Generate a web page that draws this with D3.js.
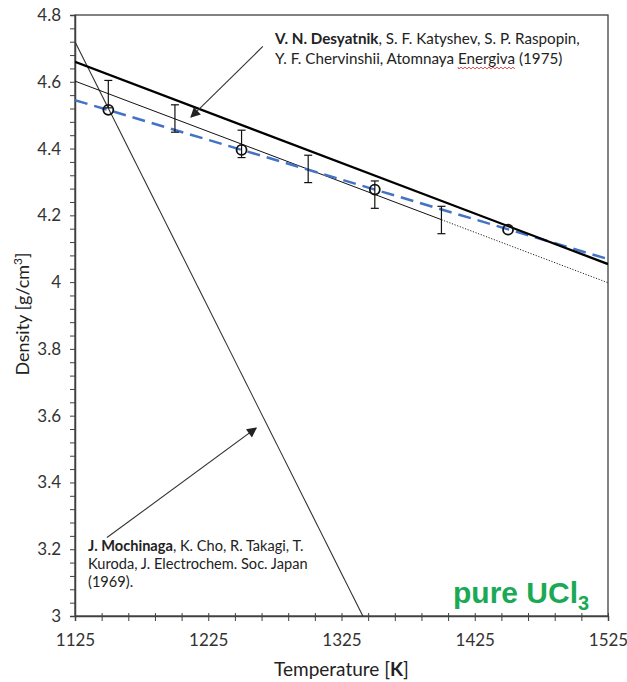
<!DOCTYPE html>
<html>
<head>
<meta charset="utf-8">
<script src="https://cdn.jsdelivr.net/npm/d3@7"></script>
<style>
  body { margin: 0; background: #fff; }
  svg { display: block; }
  text { font-family: Lato, "Open Sans", sans-serif; }
</style>
</head>
<body>
<svg id="chart" width="627" height="682"></svg>
<script>
// --- data ---
const xTicks = [1125, 1225, 1325, 1425, 1525];
const yTicks = [3, 3.2, 3.4, 3.6, 3.8, 4, 4.2, 4.4, 4.6, 4.8];

// Desyatnik et al. fit (thick)
const desyatnikFit = [[1125, 4.66], [1525, 4.054]];
// thin reference line, solid over the measured range then dotted
const thinSolid = [[1125, 4.602], [1400, 4.187]];
const thinDotted = [[1400, 4.187], [1525, 3.998]];
// blue dashed fit
const blueFit = [[1125, 4.545], [1525, 4.069]];
// Mochinaga et al. (steep)
const mochinagaFit = [[1125, 4.72], [1341, 3.0]];

// open circles
const circleT = [1150, 1250, 1350, 1450];
const circleD = [4.516, 4.396, 4.277, 4.157];

// error bars
const errT = [1150, 1200, 1250, 1300, 1350, 1400];
const errD = [4.563, 4.49, 4.414, 4.339, 4.262, 4.186];
const errHalf = 0.041;

const margin = { left: 75, right: 19, top: 15, bottom: 66 };
const width = 627, height = 682;

const svg = d3.select('#chart');
const x = d3.scaleLinear().domain([1125, 1525]).range([margin.left, width - margin.right]);
const y = d3.scaleLinear().domain([3, 4.8]).range([height - margin.bottom, margin.top]);

const axisColor = '#404040';

svg.append('defs').append('clipPath').attr('id', 'plotClip')
  .append('rect')
  .attr('x', x(1125)).attr('y', y(4.8))
  .attr('width', x(1525) - x(1125)).attr('height', y(3) - y(4.8));

// frame
svg.append('rect')
  .attr('x', x(1125)).attr('y', y(4.8))
  .attr('width', x(1525) - x(1125)).attr('height', y(3) - y(4.8))
  .attr('fill', 'none').attr('stroke', axisColor).attr('stroke-width', 1.3);

// x axis
const xAxis = svg.append('g').attr('transform', `translate(0,${y(3)})`)
  .call(d3.axisBottom(x).tickValues(d3.range(1125, 1526, 20)).tickSize(5)
    .tickFormat(d => xTicks.includes(d) ? d : ''));
xAxis.select('.domain').attr('stroke', axisColor).attr('stroke-width', 1.5);
xAxis.selectAll('.tick line').attr('stroke', axisColor).attr('y1', -3);
xAxis.selectAll('.tick text').attr('font-size', 17).attr('fill', '#333').attr('y', 30).attr('dy', 0)
  .style('font-family', 'Lato, sans-serif');

// y axis
const yAxis = svg.append('g').attr('transform', `translate(${x(1125)},0)`)
  .call(d3.axisLeft(y).tickValues(d3.range(0, 46).map(i => +(3 + i * 0.04).toFixed(2))).tickSize(5)
    .tickFormat(d => yTicks.includes(d) ? d : ''));
yAxis.select('.domain').attr('stroke', axisColor).attr('stroke-width', 1.5);
yAxis.selectAll('.tick line').attr('stroke', axisColor);
yAxis.selectAll('.tick text').attr('font-size', 17).attr('fill', '#333').attr('x', -14)
  .style('font-family', 'Lato, sans-serif');

const line = d3.line().x(d => x(d[0])).y(d => y(d[1]));
const plot = svg.append('g').attr('clip-path', 'url(#plotClip)');

plot.append('path').datum(mochinagaFit).attr('d', line)
  .attr('fill', 'none').attr('stroke', '#333').attr('stroke-width', 1.1);
plot.append('path').datum(thinSolid).attr('d', line)
  .attr('fill', 'none').attr('stroke', '#111').attr('stroke-width', 1);
plot.append('path').datum(thinDotted).attr('d', line)
  .attr('fill', 'none').attr('stroke', '#222').attr('stroke-width', 1).attr('stroke-dasharray', '1.2,1.6');
plot.append('path').datum(blueFit).attr('d', line)
  .attr('fill', 'none').attr('stroke', '#4472C4').attr('stroke-width', 2.5).attr('stroke-dasharray', '13,7');
plot.append('path').datum(desyatnikFit).attr('d', line)
  .attr('fill', 'none').attr('stroke', '#000').attr('stroke-width', 2.3);

// error bars
const eb = plot.selectAll('.eb').data(errT.map((t, i) => [t, errD[i]])).join('g').attr('class', 'eb');
eb.append('line')
  .attr('x1', d => x(d[0])).attr('x2', d => x(d[0]))
  .attr('y1', d => y(d[1] + errHalf)).attr('y2', d => y(d[1] - errHalf))
  .attr('stroke', '#111').attr('stroke-width', 1.2);
[1, -1].forEach(s => {
  eb.append('line')
    .attr('x1', d => x(d[0]) - 4).attr('x2', d => x(d[0]) + 4)
    .attr('y1', d => y(d[1] + s * errHalf)).attr('y2', d => y(d[1] + s * errHalf))
    .attr('stroke', '#111').attr('stroke-width', 1.2);
});

// open circles
plot.selectAll('.pt').data(circleT.map((t, i) => [t, circleD[i]])).join('circle')
  .attr('cx', d => x(d[0])).attr('cy', d => y(d[1])).attr('r', 5)
  .attr('fill', 'none').attr('stroke', '#111').attr('stroke-width', 1.8);

// arrows
const defs = svg.select('defs');
defs.append('marker').attr('id', 'arrow')
  .attr('viewBox', '0 0 10 10').attr('refX', 9).attr('refY', 5)
  .attr('markerWidth', 14).attr('markerHeight', 10).attr('markerUnits', 'userSpaceOnUse')
  .attr('orient', 'auto')
  .append('path').attr('d', 'M0,0 L10,5 L0,10 Z').attr('fill', '#222');

const arrowTop = [[1266, 4.706], [1212, 4.494]];
const arrowBottom = [[1149, 3.235], [1261, 3.563]];
[arrowTop, arrowBottom].forEach(a => {
  svg.append('line')
    .attr('x1', x(a[0][0])).attr('y1', y(a[0][1]))
    .attr('x2', x(a[1][0])).attr('y2', y(a[1][1]))
    .attr('stroke', '#333').attr('stroke-width', 1.1)
    .attr('marker-end', 'url(#arrow)');
});

// annotations
const ann1 = svg.append('text').attr('x', 275).attr('y', 44).attr('font-size', 15.2).attr('fill', '#222');
ann1.append('tspan').attr('font-weight', 'bold').text('V. N. Desyatnik');
ann1.append('tspan').text(', S. F. Katyshev, S. P. Raspopin,');
const ann2 = svg.append('text').attr('x', 275).attr('y', 64).attr('font-size', 15.2).attr('fill', '#222');
ann2.append('tspan').text('Y. F. Chervinshii, Atomnaya ');
ann2.append('tspan').attr('id', 'spell').text('Energiva');
ann2.append('tspan').text(' (1975)');

const a3 = svg.append('text').attr('x', 88).attr('y', 551).attr('font-size', 14.6).attr('fill', '#222');
a3.append('tspan').attr('font-weight', 'bold').text('J. Mochinaga');
a3.append('tspan').text(', K. Cho, R. Takagi, T.');
svg.append('text').attr('x', 88).attr('y', 569).attr('font-size', 14.6).attr('fill', '#222')
  .text('Kuroda, J. Electrochem. Soc. Japan');
svg.append('text').attr('x', 88).attr('y', 587).attr('font-size', 14.6).attr('fill', '#222')
  .text('(1969).');

// red wavy spell-check underline
const sp = document.getElementById('spell');
const bb = sp.getBBox();
let wave = `M${bb.x},${bb.y + bb.height}`;
for (let px = bb.x; px < bb.x + bb.width; px += 2) {
  wave += ` L${px + 1},${bb.y + bb.height + ((px - bb.x) / 2 % 2 ? 0 : 2)}`;
}
svg.append('path').attr('d', wave).attr('fill', 'none').attr('stroke', '#e02020').attr('stroke-width', 0.8);

// pure UCl3 label
const lab = svg.append('text').attr('x', 453).attr('y', 603)
  .attr('font-size', 30).attr('font-weight', 'bold').attr('fill', '#1AAA55')
  .style('font-family', '"Liberation Sans", Arial, sans-serif');
lab.append('tspan').text('pure UCl');
lab.append('tspan').attr('font-size', 20).attr('dy', 7).text('3');

// axis titles
const xt = svg.append('text').attr('x', (x(1125) + x(1525)) / 2).attr('y', 676)
  .attr('text-anchor', 'middle').attr('font-size', 19).attr('fill', '#222');
xt.append('tspan').text('Temperature [');
xt.append('tspan').attr('font-weight', 'bold').text('K');
xt.append('tspan').text(']');

const yt = svg.append('text').attr('transform', `translate(29,${314}) rotate(-90)`)
  .attr('text-anchor', 'middle').attr('font-size', 18).attr('fill', '#222');
yt.append('tspan').text('Density [g/cm');
yt.append('tspan').attr('font-size', 12).attr('dy', -7).text('3');
yt.append('tspan').attr('dy', 7).text(']');
</script>
</body>
</html>
